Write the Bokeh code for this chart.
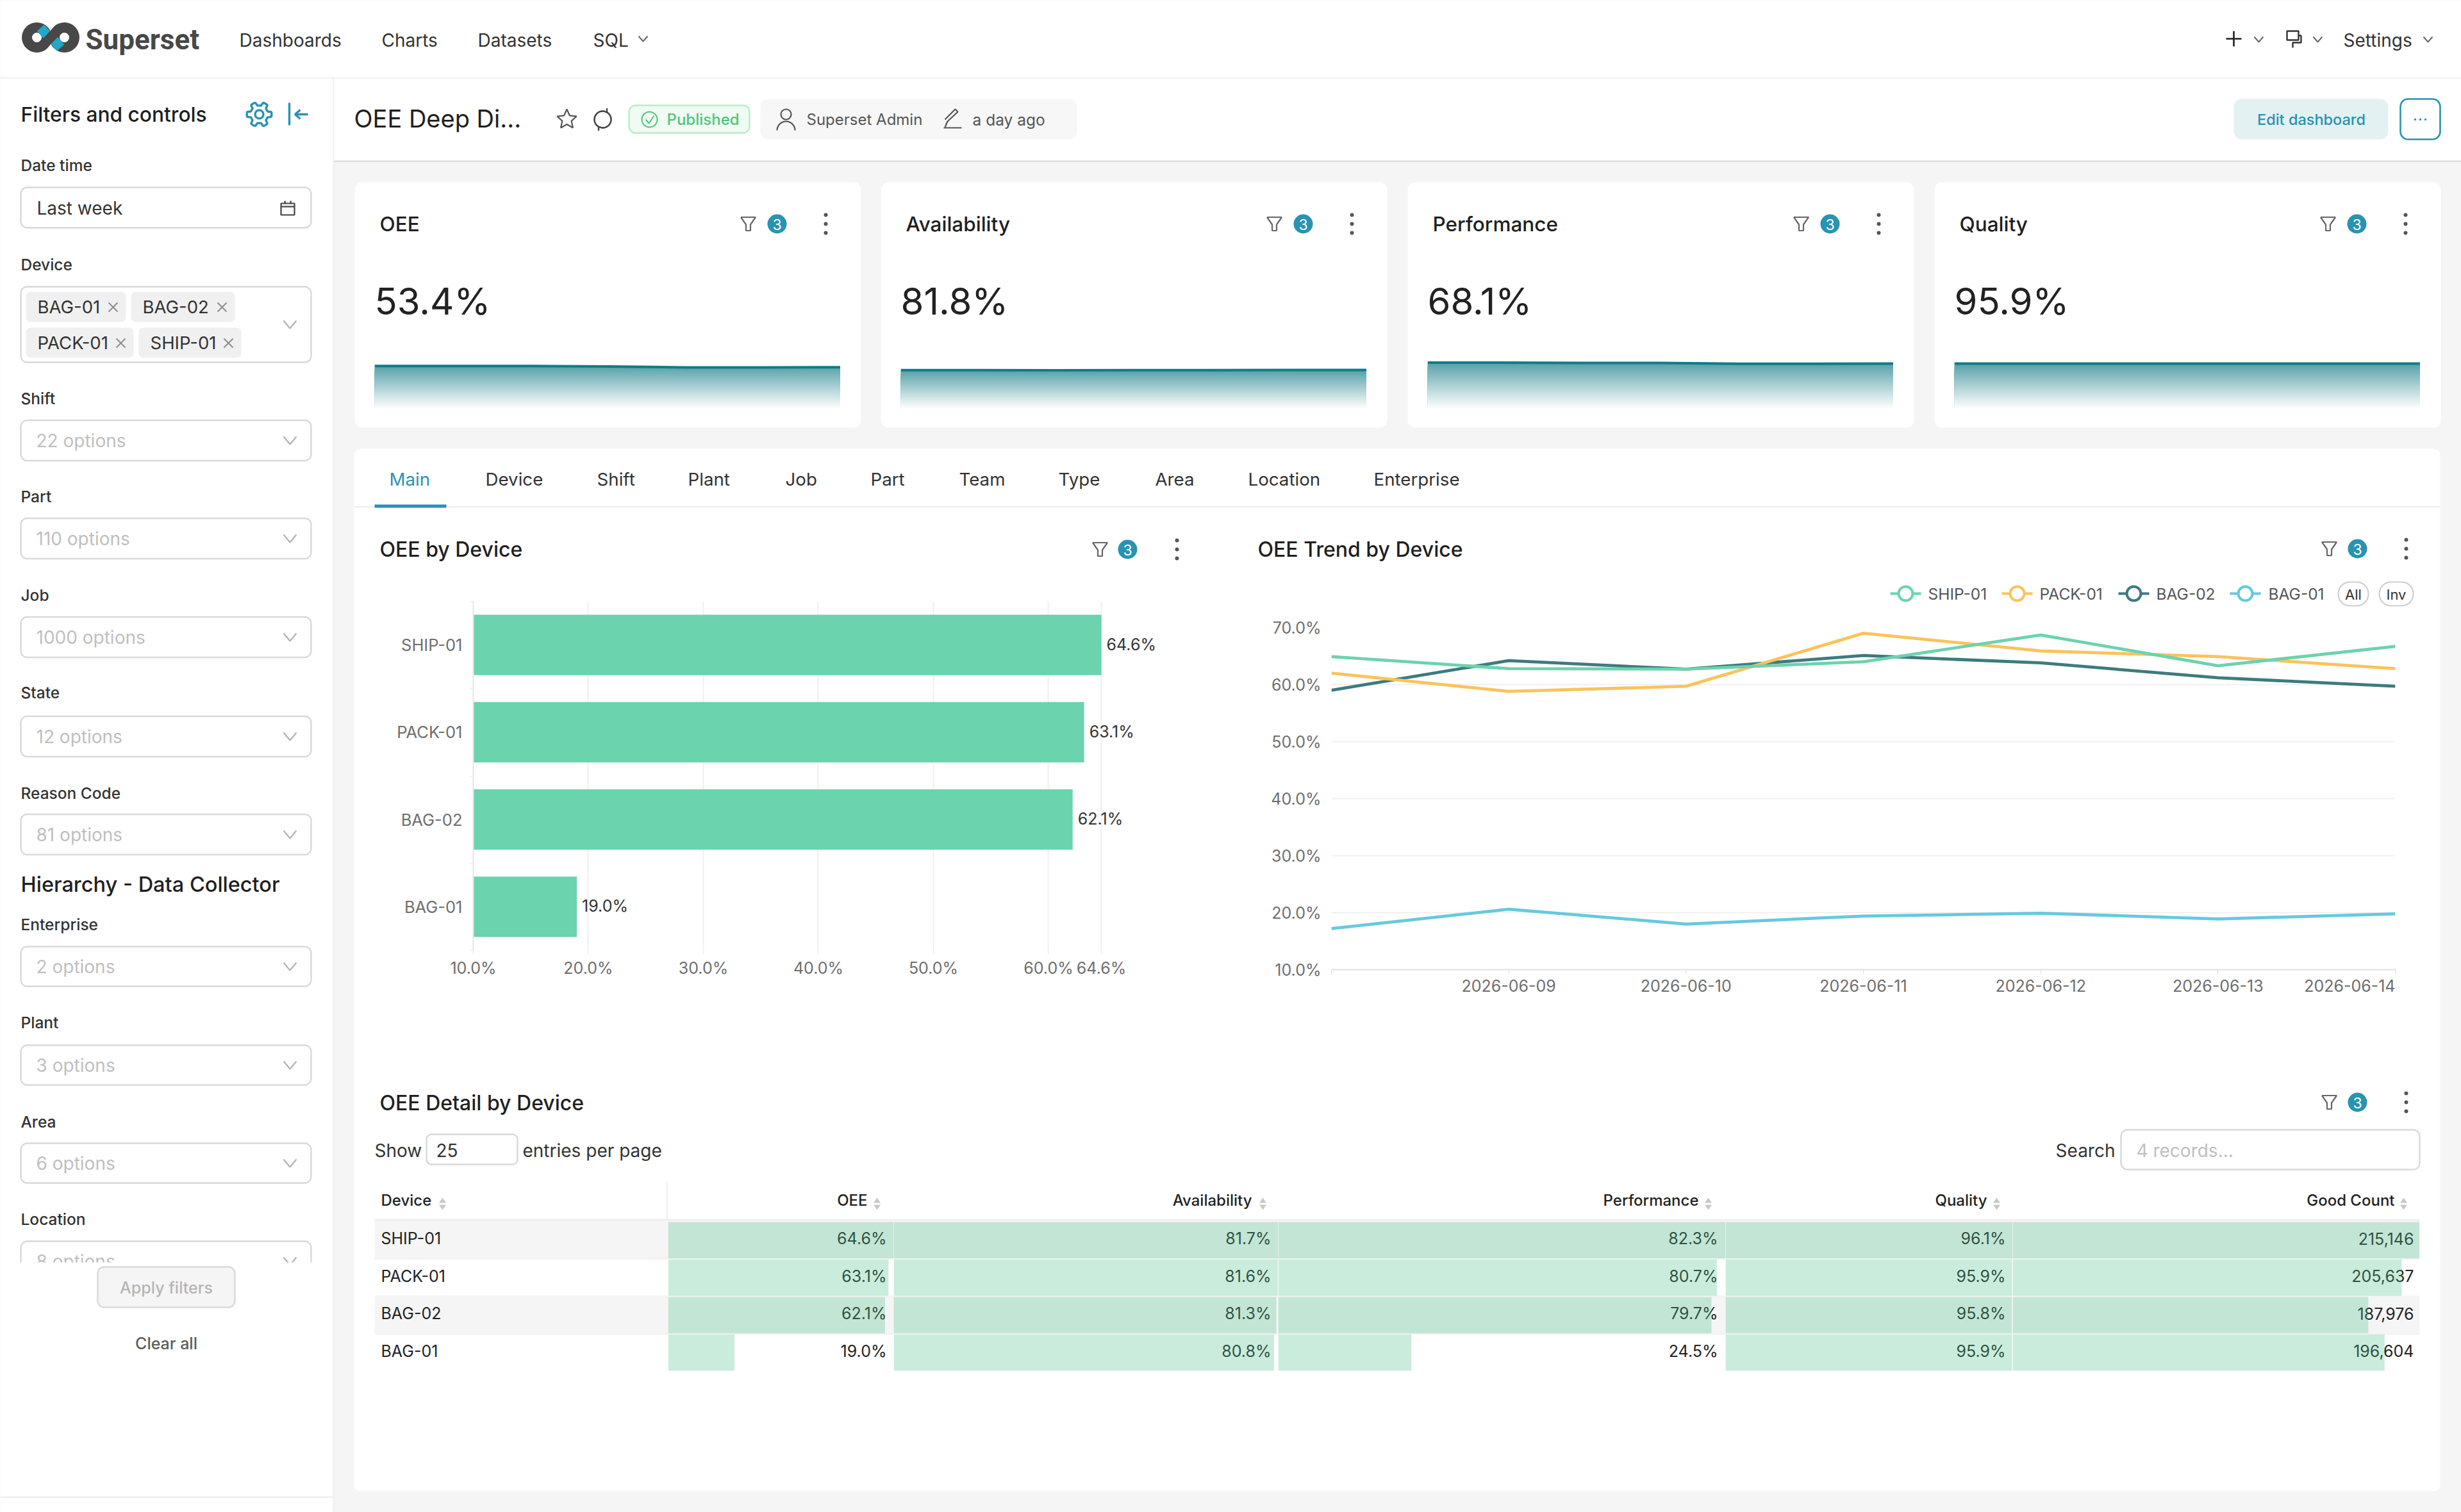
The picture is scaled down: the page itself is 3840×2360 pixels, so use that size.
import numpy as np
import pandas as pd
from bokeh.core.properties import value
from bokeh.embed import file_html
from bokeh.resources import INLINE
from bokeh.plotting import figure
from bokeh.models import (Range1d, FixedTicker, PrintfTickFormatter,
                          DatetimeTickFormatter, ColumnDataSource, LabelSet)

# ------------------------------------------------------------------ data
devices = ["SHIP-01", "PACK-01", "BAG-02", "BAG-01"]
bar_oee = [64.6, 63.1, 62.1, 19.0]
bar_ticks = [10, 20, 30, 40, 50, 60, 64.6]
bar_labels = ["64.6%", "63.1%", "62.1%", "19.0%"]

trend_dates = ["2026-06-08", "2026-06-09", "2026-06-10", "2026-06-11", "2026-06-12", "2026-06-13", "2026-06-14"]
trend_ship = [64.9, 62.8, 62.7, 64.0, 68.7, 63.3, 66.7]
trend_pack = [62.0, 58.8, 59.7, 69.0, 65.9, 64.9, 62.8]
trend_bag2 = [59.0, 64.2, 62.7, 65.1, 63.8, 61.2, 59.7]
trend_bag1 = [17.2, 20.6, 18.0, 19.4, 19.9, 18.9, 19.8]
trend_ticks_y = [10, 20, 30, 40, 50, 60, 70]

kpi_titles = ["OEE", "Availability", "Performance", "Quality"]
kpi_big = ["53.4%", "81.8%", "68.1%", "95.9%"]
spark_oee = [53.6, 53.6, 53.6, 52.9, 51.8, 51.8, 52.0]
spark_avail = [81.4, 81.4, 81.0, 81.4, 81.4, 81.9, 81.9]
spark_perf = [68.6, 68.6, 68.3, 68.3, 67.0, 67.0, 67.3]
spark_qual = [96.0, 96.0, 95.9, 95.9, 95.9, 95.9, 95.8]

tbl_oee = [64.6, 63.1, 62.1, 19.0]
tbl_avail = [81.7, 81.6, 81.3, 80.8]
tbl_perf = [82.3, 80.7, 79.7, 24.5]
tbl_qual = [96.1, 95.9, 95.8, 95.9]
tbl_good = [215146, 205637, 187976, 196604]

nav_items = ["Dashboards", "Charts", "Datasets", "SQL"]
tabs = ["Main", "Device", "Shift", "Plant", "Job", "Part", "Team", "Type", "Area", "Location", "Enterprise"]
filters = [("Shift", "22 options"), ("Part", "110 options"), ("Job", "1000 options"),
           ("State", "12 options"), ("Reason Code", "81 options")]
filters2 = [("Enterprise", "2 options"), ("Plant", "3 options"), ("Area", "6 options")]

# ------------------------------------------------------------------ styles
W, H = 3840, 2360
TEAL = "#2893b3"
GREEN, YELLOW, DARK, BLUE = "#6bd3ae", "#fbc35c", "#3d7b7e", "#66c9df"
BORDER = "#d9d9d9"
TXT = "#1f1f1f"
MED = "Inter Medium"


def absfig(x, y, w, h, **kw):
    f = figure(width=w, height=h, output_backend="svg", toolbar_location=None, tools="",
               min_border=0, background_fill_color=None, border_fill_color=None,
               outline_line_color=None,
               styles={"position": "absolute", "left": f"{x}px", "top": f"{y}px"}, **kw)
    return f


c = absfig(0, 0, W, H, x_range=Range1d(0, W), y_range=Range1d(H, 0),
           x_axis_location=None, y_axis_location=None)
c.background_fill_color = "#f5f5f5"
c.grid.visible = False


def T(x, y, s, size, color=TXT, align="left", font="Inter", style="normal", base="middle"):
    c.text(x=[x], y=[y], text=[s], text_font=value(font), text_font_size=f"{size}px", text_color=color,
           text_align=align, text_baseline=base, text_font_style=style)


def box(l, r, t, b, fill="#ffffff", line=None, lw=0):
    c.quad(left=[l], right=[r], top=[t], bottom=[b], fill_color=fill, line_color=line, line_width=lw)


def rrect(l, r, t, b, rad=10, fill="#ffffff", line=None, lw=2.4):
    a = np.linspace(0, np.pi / 2, 8)
    xs = np.concatenate([r - rad + rad * np.sin(a), r - rad + rad * np.cos(a), l + rad - rad * np.sin(a), l + rad - rad * np.cos(a)])
    ys = np.concatenate([t + rad - rad * np.cos(a), b - rad + rad * np.sin(a), b - rad + rad * np.cos(a), t + rad - rad * np.sin(a)])
    c.patch(xs, ys, fill_color=fill, line_color=line, line_width=lw)


def poly(xs, ys, color="#666666", lw=2.4):
    c.line(xs, ys, line_color=color, line_width=lw)


def chev(x, y, w=11, h=6, color="#b5b5b5", lw=2.4):
    poly([x - w, x, x + w], [y - h, y + h, y - h], color, lw)


def arc_pts(cx, cy, r, a0, a1, n=30):
    a = np.radians(np.linspace(a0, a1, n))
    return cx + r * np.cos(a), cy + r * np.sin(a)


def filter_icons(xf, xb, xd, y):
    poly([xf - 11.5, xf + 11.5, xf + 3.5, xf + 3.5, xf - 3.5, xf - 3.5, xf - 11.5],
         [y - 10.5, y - 10.5, y + 1, y + 10.5, y + 10.5, y + 1, y - 10.5], "#666666", 2.2)
    c.circle([xb], [y], radius=15, fill_color=TEAL, line_color=None)
    T(xb, y + 1, "3", 23, "#ffffff", "center")
    c.circle([xd, xd, xd], [y - 14, y, y + 14], radius=3, fill_color="#555555", line_color=None)


# ---- panels
box(0, W, 0, 121)
box(0, W, 120, 122.5, "#f0f0f0")
box(0, 519, 122, H)
box(519, 521, 122, H, "#f0f0f0")
box(521, W, 122, 250)
box(521, W, 250, 252.5, "#dcdcdc")
box(0, 519, 2335, 2337.5, "#f0f0f0")

# ---- logo
c.annulus(x=[57, 100], y=[58, 58], inner_radius=7.5, outer_radius=23.5, fill_color="#484848", line_color=None)
poly([63, 75], [43, 57], "#20a7c9", 15)
poly([82, 94], [60, 74], "#20a7c9", 15)
poly([64, 93], [73, 43], "#484848", 15)
T(133, 61, "Superset", 44, "#484848", font="Roboto", style="bold")

# ---- nav
for s, x in zip(nav_items, [373, 595, 745, 925]):
    T(x, 62, s, 28, "#333333")
chev(1003, 60, 7, 4, "#666666", 2)
poly([3485, 3485], [48, 72], TXT, 2.6)
poly([3473, 3497], [60, 60], TXT, 2.6)
chev(3524, 61, 7, 4, "#666666", 2)
c.quad(left=[3568], right=[3586], top=[48], bottom=[62], fill_color=None, line_color="#333333", line_width=2.4)
poly([3586, 3590, 3590, 3577, 3577], [55, 55, 66, 66, 74], "#333333", 2.4)
chev(3616, 61, 7, 4, "#666666", 2)
T(3656, 62, "Settings", 28, "#333333")
chev(3788, 61, 7, 4, "#666666", 2)

# ---- sidebar
T(32, 178, "Filters and controls", 31.7, TXT, font=MED)
a = np.radians(np.linspace(0, 360, 97))
gr = 16.5 + 2.8 * np.clip(3 * np.cos(6 * a), -1, 1)
poly(404 + gr * np.cos(a), 178 + gr * np.sin(a), TEAL, 3.4)
c.circle([404], [178], radius=6.5, fill_color=None, line_color=TEAL, line_width=3.4)
poly([451, 451], [160, 195], TEAL, 3.4)
poly([480, 460], [178, 178], TEAL, 3.4)
poly([468, 460, 468], [171, 178, 185], TEAL, 3.4)

T(32, 257, "Date time", 24.5, "#333333", font=MED)
rrect(32, 485, 292, 355, line=BORDER)
T(57, 324, "Last week", 28, "#333333")
c.quad(left=[438], right=[459], top=[317], bottom=[335], fill_color=None, line_color="#444444", line_width=2.2)
poly([438, 459], [322, 322], "#444444", 2.2)
poly([444, 444], [313, 318], "#444444", 2.2)
poly([453, 453], [313, 318], "#444444", 2.2)

T(32, 412, "Device", 24.5, "#333333", font=MED)
rrect(32, 485, 447, 565, line=BORDER)
for s, l, r, t, tx, xx in [(devices[3], 40, 196, 455, 58, 176), (devices[2], 204, 366, 455, 222, 346),
                           (devices[1], 40, 208, 511, 58, 188), (devices[0], 216, 376, 511, 234, 356)]:
    rrect(l, r, t, t + 47, 7, "#f0f0f0", None)
    T(tx, t + 23, s, 27.5, "#333333")
    poly([xx - 7, xx + 7], [t + 17, t + 31], "#8c8c8c", 2)
    poly([xx - 7, xx + 7], [t + 31, t + 17], "#8c8c8c", 2)
chev(452, 506, 10, 6)

for (lab, opt), ly, cy in zip(filters, [621, 774, 928, 1080, 1237], [687, 840, 994, 1149, 1302]):
    T(32, ly, lab, 24.5, "#333333", font=MED)
    rrect(32, 485, cy - 31.5, cy + 31.5, line=BORDER)
    T(56, cy, opt, 28, "#bfbfbf")
    chev(452, cy, 10, 6)

T(32, 1380, "Hierarchy - Data Collector", 32.5, TXT, font=MED)
for (lab, opt), ly, cy in zip(filters2, [1442, 1595, 1750], [1508, 1662, 1815]):
    T(32, ly, lab, 24.5, "#333333", font=MED)
    rrect(32, 485, cy - 31, cy + 31, line=BORDER)
    T(56, cy, opt, 28, "#bfbfbf")
    chev(452, cy, 10, 6)
T(32, 1902, "Location", 24.5, "#333333", font=MED)
rrect(32, 485, 1937, 1999, line=BORDER)
T(56, 1968, "8 options", 28, "#bfbfbf")
chev(452, 1968, 10, 6)
box(20, 505, 1970, 2060)
rrect(152, 366, 1977, 2040, 10, "#f5f5f5", BORDER)
T(259, 2009, "Apply filters", 25, "#b5b5b5", "center", font=MED)
T(259, 2096, "Clear all", 25, "#5c5c5c", "center", font=MED)

# ---- title bar
T(552, 184, "OEE Deep Di...", 38, TXT)
sa = np.radians(np.arange(0, 361, 36) - 90)
sr = np.where(np.arange(11) % 2 == 0, 16, 7.5)
poly(884 + sr * np.cos(sa), 186 + sr * np.sin(sa), "#555555", 2.2)
xa, ya = arc_pts(940, 186, 13, -60, 100)
poly(xa, ya, "#444444", 2.6)
poly([941, 946.5, 946.5], [173, 174.7, 168.5], "#444444", 2.4)
xa, ya = arc_pts(940, 186, 13, 120, 280)
poly(xa, ya, "#444444", 2.6)
poly([939, 933.5, 933.5], [199, 197.3, 203.5], "#444444", 2.4)
rrect(981, 1169, 164, 207, 10, "#f0fbf3", "#b9ecc8")
c.circle([1013], [186], radius=12, fill_color=None, line_color="#52c47a", line_width=2)
poly([1007, 1012, 1020], [186, 192, 180], "#52c47a", 2)
T(1040, 186, "Published", 24, "#52c47a", font=MED)
rrect(1186, 1680, 154, 217, 12, "#f7f7f7", None)
c.circle([1226], [178], radius=8, fill_color=None, line_color="#555555", line_width=2.2)
xa, ya = arc_pts(1226, 203, 14, 180, 360)
poly(xa, ya, "#555555", 2.2)
T(1258, 186, "Superset Admin", 24, "#555555")
poly([1474, 1478, 1494, 1490, 1474], [198, 189, 174, 170, 186], "#555555", 2.2)
poly([1472, 1500], [199, 199], "#555555", 2.2)
T(1517, 186, "a day ago", 24.5, "#555555")
rrect(3485, 3726, 154, 217, 12, "#e3f1f2", None)
T(3606, 186, "Edit dashboard", 23.5, TEAL, "center", font=MED)
rrect(3745, 3807, 154, 217, 12, "#ffffff", TEAL, 2.6)
c.circle([3768, 3776, 3784], [186, 186, 186], radius=1.7, fill_color=TEAL, line_color=None)

# ---- KPI cards
card_x = [553, 1374, 2196, 3018]
for cx, title, big in zip(card_x, kpi_titles, kpi_big):
    rrect(cx, cx + 790, 284, 667, 12, "#ffffff", None)
    T(cx + 39, 349, title, 31.5, TXT, font=MED)
    filter_icons(cx + 614, cx + 659, cx + 735, 349)
    T(cx + 31, 469, big, 58, "#222222")

# ---- main panel and tabs
rrect(552, 3807, 700, 2327, 10, "#ffffff", None)
box(552, 3807, 789.5, 792, "#f0f0f0")
box(584, 696, 787, 792, TEAL)
for s, x in zip(tabs, [607, 757, 931, 1073, 1225, 1358, 1496, 1651, 1802, 1947, 2143]):
    T(x, 747, s, 27.7, TEAL if s == "Main" else "#333333")

T(592, 857, "OEE by Device", 32, TXT, font=MED)
filter_icons(1716, 1759, 1836, 857)
T(1962, 857, "OEE Trend by Device", 32, TXT, font=MED)
filter_icons(3634, 3678, 3754, 856)
T(592, 1721, "OEE Detail by Device", 32, TXT, font=MED)
filter_icons(3634, 3678, 3754, 1720)

# ---- trend legend (reference layout)
trend_names = ["SHIP-01", "PACK-01", "BAG-02", "BAG-01"]
trend_colors = [GREEN, YELLOW, DARK, BLUE]
for s, col, gx, tx in zip(trend_names, trend_colors, [2973, 3147, 3329, 3503], [3008, 3182, 3364, 3539]):
    poly([gx - 24, gx + 24], [926, 926], col, 4)
    c.circle([gx], [926], radius=11, fill_color="#ffffff", line_color=col, line_width=4)
    T(tx, 926, s, 24.5, "#555555")
rrect(3648, 3695, 908, 945, 18, "#ffffff", "#cfcfcf", 2.2)
T(3671.5, 927, "All", 22, "#333333", "center")
rrect(3712, 3765, 908, 945, 18, "#ffffff", "#cfcfcf", 2.2)
T(3738.5, 927, "Inv", 22, "#333333", "center")
T(3737, 1538, trend_dates[-1], 25, "#6e6e6e", "right")

# ---- table chrome
T(584, 1795, "Show", 28, "#333333")
rrect(665, 807, 1770, 1817, 8, "#ffffff", BORDER)
T(680, 1795, "25", 28, "#333333")
T(815, 1795, "entries per page", 28, "#333333")
T(3300, 1795, "Search", 28, "#333333", "right")
rrect(3309, 3775, 1763, 1825, 10, "#ffffff", BORDER)
T(3333, 1795, "4 records...", 28, "#bfbfbf")
box(1039, 1041.5, 1844, 1903, "#f0f0f0")
box(584, 3775, 1902, 1906, "#f0f0f0")
table_heads = [("Device", 594, "left", 690), ("OEE", 1353, "right", 1368), ("Availability", 1953, "right", 1970),
               ("Performance", 2650, "right", 2665), ("Quality", 3100, "right", 3115), ("Good Count", 3736, "right", 3750)]
for s, x, al, sx in table_heads:
    T(x, 1873, s, 24, "#222222", al, font=MED)
    c.patch([sx - 5.5, sx + 5.5, sx], [1877, 1877, 1869], fill_color="#c8c8c8", line_color=None)
    c.patch([sx - 5.5, sx + 5.5, sx], [1880, 1880, 1888], fill_color="#c8c8c8", line_color=None)
row_tops = [1906, 1964.5, 2023, 2081.5, 2140]
for i, s in enumerate(devices):
    t, b = row_tops[i], row_tops[i + 1]
    if i % 2 == 0:
        box(584, 3775, t, b, "#f5f5f5")
    if i < 3:
        box(584, 3775, b - 1, b + 1, "#f0f0f0")
    T(594, (t + b) / 2 - 2.5, s, 25, "#222222")


# ------------------------------------------------------------------ sparklines
def spark(cx, vals, top):
    f = absfig(cx + 31, 555, 727, 82, x_axis_type="datetime",
               x_range=Range1d(pd.Timestamp(trend_dates[0]), pd.Timestamp(trend_dates[-1])),
               y_range=Range1d(0, top), x_axis_location=None, y_axis_location=None)
    f.grid.visible = False
    x = pd.to_datetime(trend_dates)
    v = np.array(vals, dtype=float)
    n = 36
    vmax = v.max()
    for k in range(n):
        frac = 1 - k / n
        level = vmax * frac
        # vertical gradient painted from the top down, each band over the last
        col = (int(255 - (255 - 88) * frac ** 1.05), int(255 - (255 - 162) * frac ** 1.05), int(255 - (255 - 170) * frac ** 1.05))
        f.varea(x=x, y1=0, y2=np.minimum(v, level), fill_color="#%02x%02x%02x" % col)
    f.line(x, v, line_color="#0f7c87", line_width=4)
    return f


sparks = [spark(card_x[0], spark_oee, 66.3), spark(card_x[1], spark_avail, 111.8),
          spark(card_x[2], spark_perf, 78.8), spark(card_x[3], spark_qual, 112.3)]

# ------------------------------------------------------------------ bar chart
pos = [len(devices) - 0.5 - i for i in range(len(devices))]
src = ColumnDataSource(dict(y=pos, v=bar_oee, lab=bar_labels, left=[bar_ticks[0]] * len(pos)))
bar = figure(width=1240, height=620, output_backend="svg", toolbar_location=None, tools="",
             x_range=Range1d(bar_ticks[0], 70.78), y_range=Range1d(0, len(devices)),
             min_border_left=139, min_border_right=10, min_border_top=18, min_border_bottom=57,
             background_fill_color=None, border_fill_color=None, outline_line_color=None,
             styles={"position": "absolute", "left": "599px", "top": "920px"})
bar.hbar(y="y", right="v", left="left", height=0.69, source=src, fill_color=GREEN, line_color=None)
bar.add_layout(LabelSet(x="v", y="y", text="lab", source=src, x_offset=8, y_offset=1, text_baseline="middle",
                        text_font=value("Inter"), text_font_size="25px", text_color="#333333"))
bar.xgrid.ticker = FixedTicker(ticks=bar_ticks)
bar.xgrid.grid_line_color = "#f0f0f0"
bar.xgrid.grid_line_width = 2
bar.ygrid.visible = False
xa_ = bar.xaxis[0]
xa_.ticker = FixedTicker(ticks=bar_ticks)
xa_.formatter = PrintfTickFormatter(format="%.1f%%")
xa_.axis_line_color = None
xa_.major_tick_line_color = "#e8e8e8"
xa_.major_tick_out = 6
xa_.major_tick_in = 0
xa_.minor_tick_line_color = None
xa_.major_label_standoff = 6
xa_.major_label_text_font = "Inter"
xa_.major_label_text_font_size = "25px"
xa_.major_label_text_color = "#6e6e6e"
ya_ = bar.yaxis[0]
ya_.ticker = FixedTicker(ticks=pos, minor_ticks=list(range(len(devices) + 1)))
ya_.major_label_overrides = {p_: d for p_, d in zip(pos, devices)}
ya_.axis_line_color = "#e6e6e6"
ya_.axis_line_width = 2
ya_.major_tick_line_color = None
ya_.major_tick_out = 0
ya_.major_tick_in = 0
ya_.minor_tick_out = 6
ya_.minor_tick_in = 0
ya_.minor_tick_line_color = "#e6e6e6"
ya_.major_label_standoff = 11
ya_.major_label_text_font = "Inter"
ya_.major_label_text_font_size = "25.5px"
ya_.major_label_text_color = "#6e6e6e"

# ------------------------------------------------------------------ trend chart
dates = pd.to_datetime(trend_dates)
ms = [int(d.timestamp() * 1000) for d in dates]
tr = figure(width=1830, height=600, output_backend="svg", toolbar_location=None, tools="", x_axis_type="datetime",
            x_range=Range1d(dates[0], dates[-1]), y_range=Range1d(trend_ticks_y[0], trend_ticks_y[-1]),
            min_border_left=117, min_border_right=53, min_border_top=19, min_border_bottom=47,
            background_fill_color=None, border_fill_color=None, outline_line_color=None,
            styles={"position": "absolute", "left": "1960px", "top": "960px"})
for vals, col in zip([trend_bag1, trend_bag2, trend_pack, trend_ship], [BLUE, DARK, YELLOW, GREEN]):
    tr.line(dates, vals, line_color=col, line_width=4.8)
tr.xgrid.visible = False
tr.ygrid.ticker = FixedTicker(ticks=trend_ticks_y)
tr.ygrid.grid_line_color = "#f0f0f0"
tr.ygrid.grid_line_width = 2.2
ax = tr.xaxis[0]
ax.ticker = FixedTicker(ticks=ms)
ax.formatter = DatetimeTickFormatter(days="%Y-%m-%d", hours="%Y-%m-%d", months="%Y-%m-%d", years="%Y-%m-%d", context=None)
ax.major_label_overrides = {ms[0]: "", ms[-1]: ""}
ax.axis_line_color = "#e0e0e0"
ax.axis_line_width = 2
ax.major_tick_line_color = "#e0e0e0"
ax.major_tick_out = 7
ax.major_tick_in = 0
ax.minor_tick_line_color = None
ax.major_label_standoff = 8
ax.major_label_text_font = "Inter"
ax.major_label_text_font_size = "25px"
ax.major_label_text_color = "#6e6e6e"
ay = tr.yaxis[0]
ay.ticker = FixedTicker(ticks=trend_ticks_y)
ay.formatter = PrintfTickFormatter(format="%.1f%%")
ay.axis_line_color = None
ay.major_tick_line_color = None
ay.minor_tick_line_color = None
ay.major_tick_out = 0
ay.major_tick_in = 0
ay.major_label_standoff = 16
ay.major_label_text_font = "Inter"
ay.major_label_text_font_size = "25px"
ay.major_label_text_color = "#6e6e6e"


# ------------------------------------------------------------------ table cell bars
def cell_col(x0, x1, vals, fmt, pad):
    vmax = max(vals)
    f = absfig(x0, 1906, x1 - x0, 234, x_range=Range1d(0, vmax), y_range=Range1d(len(vals), 0),
               x_axis_location=None, y_axis_location=None)
    f.grid.visible = False
    y = [i + 0.5 for i in range(len(vals))]
    f.text(x=[vmax] * len(vals), y=y, text=[fmt(v) for v in vals], x_offset=-pad, y_offset=-2.5, text_align="right",
           text_baseline="middle", text_font=value("Inter"), text_font_size="25px", text_color="#222222")
    f.hbar(y=y, left=0, right=vals, height=0.966, fill_color="#51c08a", fill_alpha=0.3, line_color=None)
    return f


pct = lambda v: f"{v:.1f}%"
cols = [cell_col(1042, 1394, tbl_oee, pct, 11), cell_col(1394, 1994, tbl_avail, pct, 11),
        cell_col(1994, 2692, tbl_perf, pct, 12), cell_col(2692, 3140, tbl_qual, pct, 11),
        cell_col(3140, 3775, tbl_good, lambda v: f"{v:,}", 9)]

open("out.html", "w").write(file_html([c, *sparks, bar, tr, *cols], INLINE))
